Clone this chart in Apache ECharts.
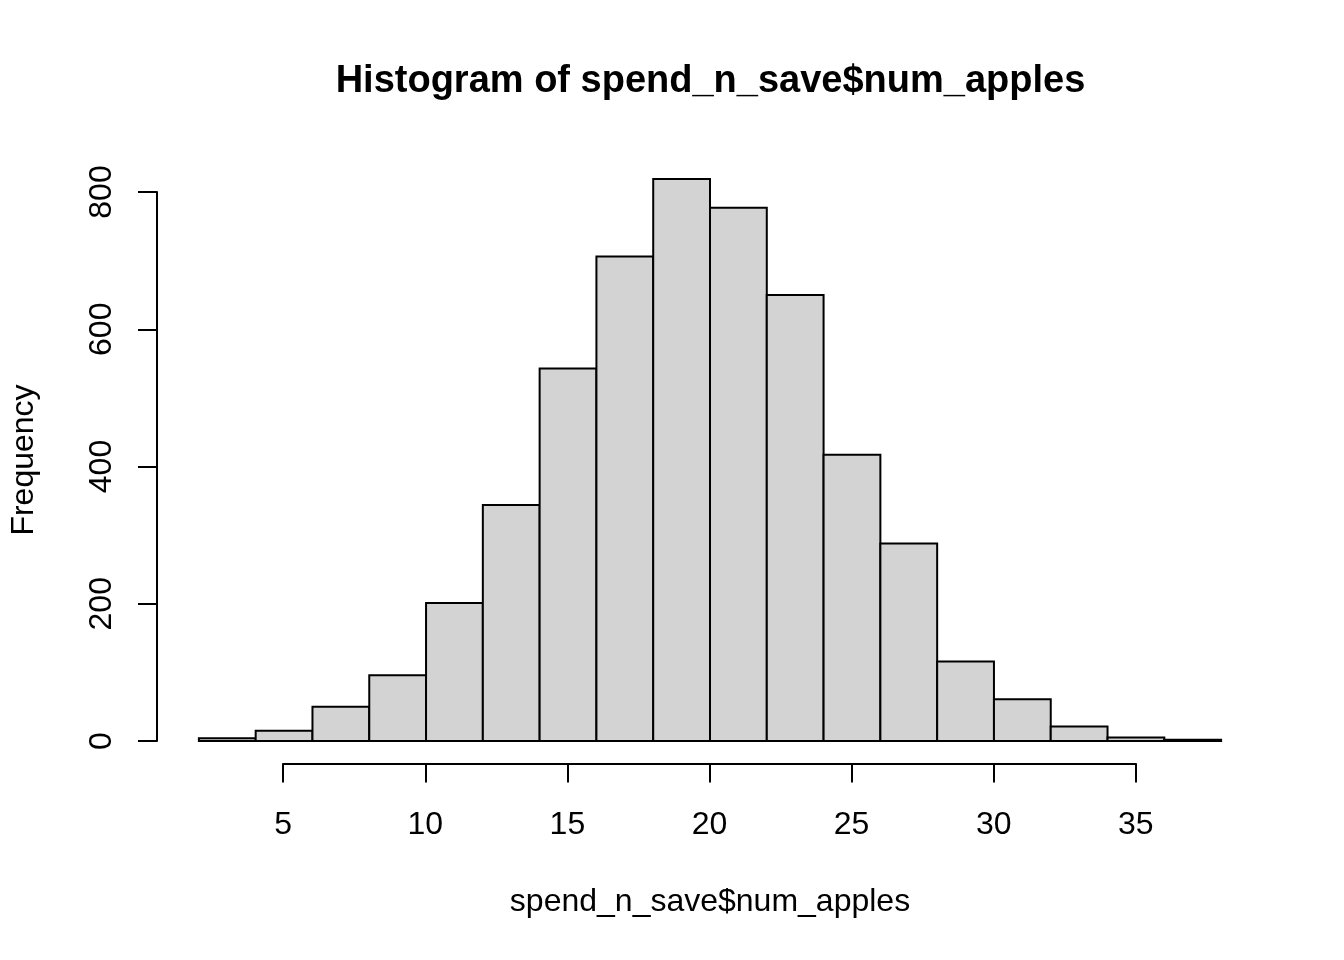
<!DOCTYPE html>
<html>
<head>
<meta charset="utf-8">
<script src="https://cdn.jsdelivr.net/npm/echarts@6/dist/echarts.min.js"></script>
<style>
  html, body { margin: 0; padding: 0; background: #fff; }
  #chart { width: 1344px; height: 960px; }
</style>
</head>
<body>
<div id="chart"></div>
<script>
// histogram bins (width 2) and counts
var breaks = [2, 4, 6, 8, 10, 12, 14, 16, 18, 20, 22, 24, 26, 28, 30, 32, 34, 36, 38];
var counts = [4, 15, 50, 96, 201, 344, 543, 706, 819, 777, 650, 417, 288, 116, 61, 21, 5, 2];
var xTicks = [5, 10, 15, 20, 25, 30, 35];
var yTicks = [0, 200, 400, 600, 800];

var titleText = 'Histogram of spend_n_save$num_apples';
var xLabel = 'spend_n_save$num_apples';
var yLabel = 'Frequency';

var FONT = '"Liberation Sans", Arial, sans-serif';

// plot region in pixels, R-style 4% padding on both ranges
var plotL = 157, plotR = 1262, plotT = 156.5, plotB = 763.5;
var xMin = breaks[0], xMax = breaks[breaks.length - 1];
var yMaxData = Math.max.apply(null, counts);
var xUsr = [xMin - 0.04 * (xMax - xMin), xMax + 0.04 * (xMax - xMin)];
var yUsr = [-0.04 * yMaxData, 1.04 * yMaxData];

function px(x) { return plotL + (x - xUsr[0]) / (xUsr[1] - xUsr[0]) * (plotR - plotL); }
function py(y) { return plotB - (y - yUsr[0]) / (yUsr[1] - yUsr[0]) * (plotB - plotT); }

var bins = [];
for (var i = 0; i < counts.length; i++) {
  bins.push([breaks[i], breaks[i + 1], counts[i]]);
}

var W = 1344, H = 960;
var axisLine = { show: true, lineStyle: { color: '#000', width: 2 } };
var axisTick = { show: true, length: 19, lineStyle: { color: '#000', width: 2 } };
var labelStyle = { color: '#000', fontSize: 32, fontFamily: FONT };

var chart = echarts.init(document.getElementById('chart'), null, { renderer: 'canvas' });

var option = {
  backgroundColor: '#fff',
  animation: false,
  title: {
    text: titleText,
    left: (plotL + plotR) / 2 - 4,
    top: 58,
    textAlign: 'center',
    textStyle: { color: '#000', fontSize: 38, fontWeight: 'bold', fontFamily: FONT }
  },
  grid: [
    // data region
    { left: plotL, right: W - plotR, top: plotT, bottom: H - plotB },
    // y axis (0..800 only)
    { left: plotL, width: 10, top: py(yTicks[yTicks.length - 1]), bottom: H - py(yTicks[0]) },
    // x axis (5..35 only)
    { left: px(xTicks[0]), right: W - px(xTicks[xTicks.length - 1]), top: plotB - 10, bottom: H - plotB }
  ],
  xAxis: [
    {
      gridIndex: 0, type: 'value', min: xUsr[0], max: xUsr[1],
      axisLine: { show: false }, axisTick: { show: false }, axisLabel: { show: false }, splitLine: { show: false },
      name: xLabel, nameLocation: 'middle', nameGap: 123,
      nameTextStyle: labelStyle
    },
    {
      gridIndex: 1, type: 'value', show: false
    },
    {
      gridIndex: 2, type: 'value', min: xTicks[0], max: xTicks[xTicks.length - 1], interval: 5,
      position: 'bottom',
      axisLine: axisLine, axisTick: axisTick, splitLine: { show: false },
      axisLabel: { color: '#000', fontSize: 32, fontFamily: FONT, margin: 46 }
    }
  ],
  yAxis: [
    {
      gridIndex: 0, type: 'value', min: yUsr[0], max: yUsr[1],
      axisLine: { show: false }, axisTick: { show: false }, axisLabel: { show: false }, splitLine: { show: false },
      name: yLabel, nameLocation: 'middle', nameGap: 118, nameRotate: 90,
      nameTextStyle: labelStyle
    },
    {
      gridIndex: 1, type: 'value', min: yTicks[0], max: yTicks[yTicks.length - 1], interval: 200,
      position: 'left',
      axisLine: axisLine, axisTick: axisTick, splitLine: { show: false },
      axisLabel: { color: '#000', fontSize: 32, fontFamily: FONT, rotate: 90, margin: 39 }
    },
    {
      gridIndex: 2, type: 'value', show: false
    }
  ],
  series: [
    {
      type: 'custom',
      xAxisIndex: 0,
      yAxisIndex: 0,
      data: bins,
      encode: { x: [0, 1], y: 2 },
      renderItem: function (params, api) {
        var p0 = api.coord([api.value(0), api.value(2)]);
        var p1 = api.coord([api.value(1), 0]);
        return {
          type: 'rect',
          shape: { x: p0[0], y: p0[1], width: p1[0] - p0[0], height: p1[1] - p0[1] },
          style: { fill: '#d3d3d3', stroke: '#000', lineWidth: 2 }
        };
      }
    }
  ]
};

chart.setOption(option);
</script>
</body>
</html>
